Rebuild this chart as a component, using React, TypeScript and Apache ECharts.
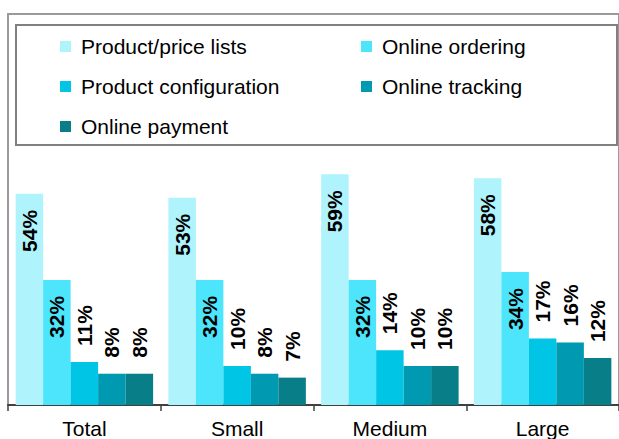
import React, { useEffect, useRef } from "react";
import * as echarts from "echarts";

const categories = ["Total", "Small", "Medium", "Large"];
const seriesNames = [
  "Product/price lists",
  "Online ordering",
  "Product configuration",
  "Online tracking",
  "Online payment",
];
const productPriceLists = [54, 53, 59, 58];
const onlineOrdering = [32, 32, 32, 34];
const productConfiguration = [11, 10, 14, 17];
const onlineTracking = [8, 8, 10, 16];
const onlinePayment = [8, 7, 10, 12];

const colors = ["#aff3fc", "#4ce5fc", "#00c5e5", "#0099b2", "#087e88"];
const FONT = "'Liberation Sans', Arial, sans-serif";

export default function App() {
  const ref = useRef<HTMLDivElement>(null);
  useEffect(() => {
    document.body.style.margin = "0";
    if (!ref.current) return;
    const chart = echarts.init(ref.current, undefined, { renderer: "svg" });
    const values = [
      productPriceLists,
      onlineOrdering,
      productConfiguration,
      onlineTracking,
      onlinePayment,
    ];
    const series = values.map((data, i) => {
      const inside = i < 2;
      return {
        name: seriesNames[i],
        type: "bar",
        data,
        barGap: "0%",
        barCategoryGap: "10%",
        itemStyle: { color: colors[i] },
        label: {
          show: true,
          position: inside ? "insideTop" : "top",
          rotate: 90,
          align: inside ? "right" : "left",
          verticalAlign: "middle",
          distance: 16,
          formatter: "{c}%",
          fontFamily: FONT,
          fontSize: 21,
          fontWeight: "bold",
          color: "#000",
        },
      };
    });
    const legendText = {
      fontFamily: FONT,
      fontSize: 21,
      color: "#000",
      lineHeight: 21,
      padding: [0, 0, 0, 5],
    };
    const legendBase = {
      orient: "vertical",
      top: 36,
      padding: 0,
      itemGap: 19,
      itemWidth: 11,
      itemHeight: 11,
      icon: "rect",
      textStyle: legendText,
    };
    chart.setOption({
      animation: false,
      backgroundColor: "#ffffff",
      grid: {
        left: 8,
        right: -5,
        top: 14,
        bottom: 34,
        show: true,
        borderColor: "#9a9a9a",
        borderWidth: 2,
      },
      legend: [
        {
          ...legendBase,
          data: [seriesNames[0], seriesNames[2], seriesNames[4]],
          left: 60,
        },
        {
          ...legendBase,
          data: [seriesNames[1], seriesNames[3]],
          left: 361,
        },
      ],
      graphic: [
        {
          type: "rect",
          shape: { x: 16, y: 25, width: 601, height: 120 },
          style: { fill: "none", stroke: "#808080", lineWidth: 2 },
        },
      ],
      xAxis: {
        type: "category",
        data: categories,
        axisLine: { show: true, lineStyle: { color: "#404040", width: 2 } },
        axisTick: { show: true, length: 6, lineStyle: { color: "#404040", width: 1.5 } },
        axisLabel: {
          fontFamily: FONT,
          fontSize: 21,
          color: "#000",
          margin: 13,
        },
      },
      yAxis: {
        type: "value",
        min: 0,
        max: 100,
        show: true,
        axisLine: { show: false },
        axisTick: { show: false },
        axisLabel: { show: false },
        splitLine: { show: false },
      },
      series,
    });
    return () => chart.dispose();
  }, []);
  return <div ref={ref} style={{ width: 619, height: 439 }} />;
}
